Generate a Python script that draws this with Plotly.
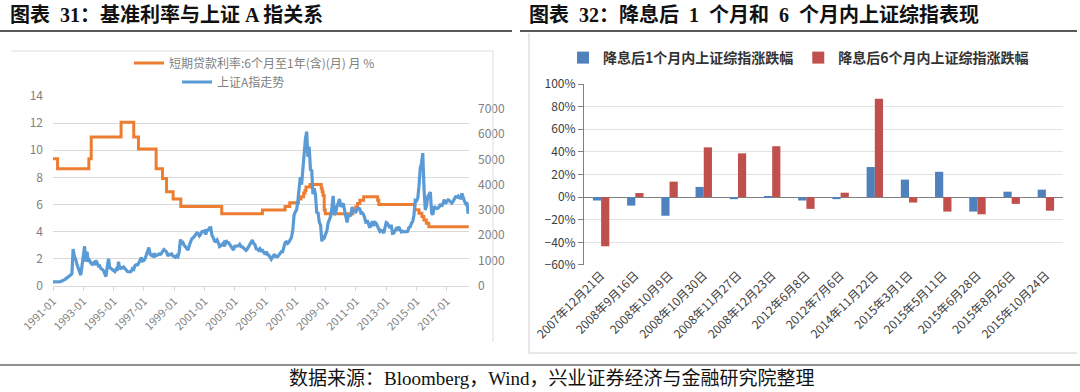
import pandas as pd
import plotly.graph_objects as go

# ---------------- Left chart data ----------------
rate_dates = ['1991-01-01', '1991-04-21', '1993-05-15', '1993-07-11', '1995-07-01', '1996-05-01',
              '1996-08-23', '1997-10-23', '1998-03-25', '1998-07-01', '1998-12-07', '1999-06-10',
              '2002-02-21', '2004-10-29', '2006-04-28', '2006-08-19', '2007-03-18', '2007-05-19',
              '2007-07-21', '2007-08-22', '2007-09-15', '2007-12-21', '2008-09-16', '2008-10-09',
              '2008-10-30', '2008-11-27', '2008-12-23', '2010-10-20', '2010-12-26', '2011-02-09',
              '2011-04-06', '2011-07-07', '2012-06-08', '2012-07-06', '2014-11-22', '2015-03-01',
              '2015-05-11', '2015-06-28', '2015-08-26', '2015-10-24', '2018-06-15']
loan_rate = [9.36, 8.64, 9.36, 10.98, 12.06, 10.98,
             10.08, 8.64, 7.92, 6.93, 6.39, 5.85,
             5.31, 5.58, 5.85, 6.12, 6.39, 6.57,
             6.84, 7.02, 7.29, 7.47, 7.20, 6.93,
             6.66, 5.58, 5.31, 5.56, 5.81, 6.06,
             6.31, 6.56, 6.31, 6.00, 5.60, 5.35,
             5.10, 4.85, 4.60, 4.35, 4.35]

index_start = '1991-01-01'
sh_a_index = [
    150, 150, 145, 140, 140, 150, 160, 190, 200, 230, 270, 300,            # 1991
    330, 380, 420, 480, 1450, 1150, 1050, 850, 700, 600, 420, 800,         # 1992
    1150, 1560, 950, 1350, 950, 1000, 900, 850, 900, 820, 1000, 850,       # 1993
    780, 790, 680, 650, 600, 480, 360, 750, 1070, 720, 680, 660,           # 1994
    580, 560, 650, 600, 950, 650, 720, 700, 740, 700, 620, 560,            # 1995
    540, 550, 570, 680, 650, 800, 830, 820, 900, 1000, 1120, 980,          # 1996
    1000, 1080, 1230, 1420, 1515, 1250, 1200, 1230, 1120, 1230, 1200, 1220,  # 1997
    1260, 1240, 1280, 1380, 1430, 1380, 1340, 1180, 1240, 1230, 1260, 1180,  # 1998
    1130, 1120, 1190, 1150, 1320, 1830, 1640, 1700, 1600, 1540, 1490, 1410,  # 1999
    1590, 1770, 1860, 1890, 1950, 1990, 2090, 2070, 1970, 2030, 2140, 2150,  # 2000
    2170, 2030, 2190, 2200, 2290, 2300, 1990, 1900, 1770, 1750, 1810, 1710,  # 2001
    1550, 1580, 1660, 1690, 1560, 1800, 1710, 1710, 1640, 1570, 1490, 1410,  # 2002
    1560, 1570, 1570, 1580, 1640, 1550, 1540, 1480, 1430, 1400, 1460, 1560,  # 2003
    1660, 1750, 1810, 1670, 1630, 1460, 1450, 1400, 1460, 1380, 1400, 1320,  # 2004
    1240, 1350, 1230, 1210, 1110, 1050, 1130, 1210, 1210, 1150, 1150, 1210,  # 2005
    1310, 1350, 1350, 1500, 1710, 1740, 1680, 1730, 1830, 1920, 2200, 2800,  # 2006
    2920, 3010, 3330, 4020, 4300, 4000, 4680, 5470, 5810, 6100, 5100, 5510,  # 2007
    4590, 4560, 3630, 3860, 3590, 2870, 2910, 2510, 2400, 1760, 1960, 1910,  # 2008
    2080, 2180, 2480, 2600, 2750, 3100, 3560, 2800, 2910, 3130, 3350, 3430,  # 2009
    3130, 3190, 3260, 3000, 2710, 2510, 2760, 2760, 2790, 3120, 2950, 2940,  # 2010
    2920, 3040, 3070, 3050, 2870, 2890, 2830, 2690, 2470, 2590, 2440, 2300,  # 2011
    2400, 2550, 2370, 2510, 2480, 2340, 2200, 2150, 2190, 2170, 2080, 2380,  # 2012
    2500, 2470, 2350, 2280, 2410, 2070, 2080, 2200, 2270, 2240, 2330, 2220,  # 2013
    2130, 2160, 2130, 2130, 2140, 2150, 2300, 2330, 2470, 2540, 2800, 3380,  # 2014
    3360, 3470, 3930, 4650, 4830, 5250, 3840, 3000, 3190, 3540, 3610, 3710,  # 2015
    2870, 2820, 3140, 3080, 3060, 3070, 3120, 3240, 3140, 3250, 3410, 3250,  # 2016
    3310, 3400, 3370, 3300, 3270, 3340, 3430, 3520, 3510, 3550, 3480, 3470,  # 2017
    3650, 3450, 3350, 3250, 3300, 2850,                                      # 2018
]
left_xticks = ['1991-01', '1993-01', '1995-01', '1997-01', '1999-01', '2001-01', '2003-01',
               '2005-01', '2007-01', '2009-01', '2011-01', '2013-01', '2015-01', '2017-01']
right_axis_ticks = [0, 1000, 2000, 3000, 4000, 5000, 6000, 7000]

# ---------------- Right chart data ----------------
cut_dates = ['2007年12月21日', '2008年9月16日', '2008年10月9日', '2008年10月30日', '2008年11月27日',
             '2008年12月23日', '2012年6月8日', '2012年7月6日', '2014年11月22日', '2015年3月1日',
             '2015年5月11日', '2015年6月28日', '2015年8月26日', '2015年10月24日']
after_1m = [-0.030, -0.075, -0.165, 0.090, -0.018, 0.003, -0.030, -0.018, 0.266, 0.155, 0.224, -0.128, 0.048, 0.066]
after_6m = [-0.435, 0.036, 0.137, 0.440, 0.387, 0.450, -0.104, 0.039, 0.870, -0.048, -0.128, -0.152, -0.060, -0.120]

W, H = 1080, 392
def px(x):
    return x / W
def py(y):
    return 1 - y / H

CJK = 'Noto Sans CJK SC'
SERIF = 'Liberation Serif, Noto Sans CJK SC'
SP = '\u2002'

month_dates = pd.date_range(index_start, periods=len(sh_a_index), freq='MS')

fig = go.Figure()
fig.add_trace(go.Scatter(
    x=rate_dates, y=loan_rate, mode='lines', line_shape='hv',
    name='短期贷款利率:6个月至1年(含)(月) 月 %',
    line=dict(color='#ED7D31', width=3), xaxis='x', yaxis='y', legend='legend'))
fig.add_trace(go.Scatter(
    x=month_dates, y=sh_a_index, mode='lines', name='上证A指走势',
    line=dict(color='#5B9BD5', width=3.2), xaxis='x', yaxis='y2', legend='legend3'))

fig.add_trace(go.Bar(x=cut_dates, y=after_1m, name='降息后1个月内上证综指涨跌幅',
                     marker=dict(color='#4F81BD', line=dict(width=0)), xaxis='x2', yaxis='y3',
                     legend='legend2'))
fig.add_trace(go.Bar(x=cut_dates, y=after_6m, name='降息后6个月内上证综指涨跌幅',
                     marker=dict(color='#C0504D', line=dict(width=0)), xaxis='x2', yaxis='y3',
                     legend='legend2'))

grey_tick = dict(family=CJK, size=12, color='#808080')

fig.update_layout(
    width=W, height=H, autosize=False,
    margin=dict(l=0, r=0, t=0, b=0, autoexpand=False),
    paper_bgcolor='white', plot_bgcolor='white',
    barmode='group', bargap=0.52, bargroupgap=0,
    xaxis=dict(domain=[px(53), px(469)], anchor='y', type='date', automargin=False,
               range=['1991-01-01', '2018-06-20'],
               tickvals=[t + '-01' for t in left_xticks], ticktext=left_xticks,
               tickangle=-45, tickfont=dict(family=CJK, size=11, color='#808080'),
               showgrid=False, showline=True, linecolor='#d9d9d9', linewidth=1,
               ticks='outside', ticklen=4, tickcolor='#d9d9d9', zeroline=False),
    yaxis=dict(domain=[py(285.7), py(96)], anchor='x', range=[0, 14], dtick=2, automargin=False,
               tickfont=grey_tick, showgrid=True, gridcolor='#d9d9d9', gridwidth=1,
               showline=False, zeroline=False, ticks='', ticklabelstandoff=9),
    yaxis2=dict(overlaying='y', anchor='x', side='right', range=[0, 7514], automargin=False,
                tickvals=right_axis_ticks, ticktext=[str(v) for v in right_axis_ticks],
                tickfont=grey_tick, showgrid=False, showline=False, zeroline=False,
                ticks='', ticklabelstandoff=8),
    xaxis2=dict(domain=[px(584), px(1063)], anchor='y3', type='category', automargin=False,
                tickangle=-45, tickfont=dict(family=CJK, size=12, color='#404040'),
                showgrid=False, showline=False, ticks='', zeroline=False),
    yaxis3=dict(domain=[py(265), py(84)], anchor='x2', range=[-0.6005, 1.0005], automargin=False,
                tickvals=[-0.6, -0.4, -0.2, 0, 0.2, 0.4, 0.6, 0.8, 1.0], tickformat='.0%',
                tickfont=dict(family=CJK, size=12, color='#404040'),
                showgrid=True, gridcolor='#e3e3e3', gridwidth=1,
                showline=True, linecolor='#808080', linewidth=1,
                ticks='outside', ticklen=5, tickcolor='#808080',
                zeroline=True, zerolinecolor='#808080', zerolinewidth=1),
    legend=dict(x=px(129), y=py(63), xanchor='left', yanchor='middle', orientation='h',
                font=dict(family=CJK, size=12, color='#808080'), bgcolor='rgba(0,0,0,0)',
                itemwidth=30, tracegroupgap=0),
    legend3=dict(x=px(177), y=py(82), xanchor='left', yanchor='middle', orientation='h',
                 font=dict(family=CJK, size=12, color='#808080'), bgcolor='rgba(0,0,0,0)',
                 itemwidth=30),
    legend2=dict(x=px(563), y=py(58), xanchor='left', yanchor='middle', orientation='h',
                 font=dict(family=CJK, size=14, color='#333333', weight='bold'),
                 bgcolor='rgba(0,0,0,0)', itemwidth=30),
    showlegend=True,
)

# titles and footer
fig.add_annotation(text=f'图表{SP}31：基准利率与上证 A 指关系', x=px(8), y=py(15), xref='paper',
                   yref='paper', xanchor='left', yanchor='middle', showarrow=False,
                   font=dict(family=SERIF, size=20, color='#111111', weight='bold'))
fig.add_annotation(text=f'图表{SP}32：降息后{SP}1{SP}个月和{SP}6{SP}个月内上证综指表现', x=px(527), y=py(15),
                   xref='paper', yref='paper', xanchor='left', yanchor='middle', showarrow=False,
                   font=dict(family=SERIF, size=20, color='#111111', weight='bold'))
fig.add_annotation(text='数据来源：Bloomberg，Wind，兴业证券经济与金融研究院整理', x=px(552), y=py(378),
                   xref='paper', yref='paper', xanchor='center', yanchor='middle', showarrow=False,
                   font=dict(family=SERIF, size=19, color='#111111'))

def hline(x0, x1, y, color, width):
    fig.add_shape(type='line', xref='paper', yref='paper', x0=px(x0), x1=px(x1), y0=py(y), y1=py(y),
                  line=dict(color=color, width=width))
def vline(x, y0, y1, color, width):
    fig.add_shape(type='line', xref='paper', yref='paper', x0=px(x), x1=px(x), y0=py(y0), y1=py(y1),
                  line=dict(color=color, width=width))

hline(0, 512, 31, '#222222', 1.5)
hline(520, 1077, 31, '#222222', 1.5)
hline(0, 1080, 365, '#222222', 1.2)
# picture frames
hline(11, 493, 51, '#dcdcdc', 1)
vline(493, 51, 342, '#dcdcdc', 1)
vline(529, 33, 353, '#cfcfcf', 1)
hline(529, 1077, 353, '#cfcfcf', 1)

fig.write_html('out.html', config={'displayModeBar': False},
               post_script="document.body.style.margin='0px';")
